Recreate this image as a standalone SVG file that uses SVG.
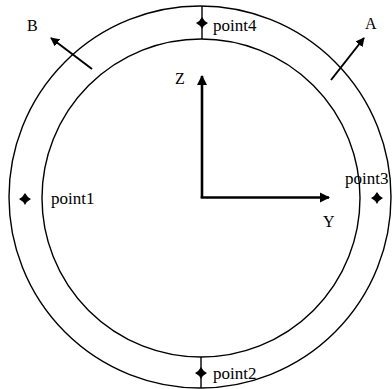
<svg xmlns="http://www.w3.org/2000/svg" width="392" height="389" viewBox="0 0 392 389">
<defs>
<style>
.ring{fill:none;stroke:#000;stroke-width:1.4}
.ax{fill:none;stroke:#000;stroke-width:2.6}
.ar{fill:none;stroke:#000;stroke-width:2}
.tk{fill:none;stroke:#000;stroke-width:1.4}
.t{font-family:"Liberation Serif","Times New Roman",serif;font-size:16px;fill:#000}
.p{font-size:17px}
</style>
<marker id="ah" viewBox="0 0 10 10" refX="9" refY="5" markerWidth="4" markerHeight="4" orient="auto" markerUnits="strokeWidth">
<path d="M0,0 L10,5 L0,10 Z" fill="#000"/>
</marker>
<marker id="ah2" viewBox="0 0 10 10" refX="9" refY="5" markerWidth="4.5" markerHeight="4.5" orient="auto" markerUnits="strokeWidth">
<path d="M0,0 L10,5 L0,10 Z" fill="#000"/>
</marker>
<path id="star" d="M0,-6 Q2,-2 6,0 Q2,2 0,6 Q-2,2 -6,0 Q-2,-2 0,-6Z" fill="#000"/>
</defs>
<g id="rings">
<circle class="ring" cx="200" cy="197" r="191"/>
<circle class="ring" cx="201" cy="198" r="159"/>
</g>
<g id="connectors">
<line class="ax" x1="202" y1="198" x2="202" y2="76" marker-end="url(#ah)"/>
<line class="ax" x1="200.7" y1="197.5" x2="329" y2="197.5" marker-end="url(#ah)"/>
<line class="ar" x1="92" y1="69" x2="51" y2="38" marker-end="url(#ah2)"/>
<line class="ar" x1="331" y1="80" x2="364" y2="38" marker-end="url(#ah2)"/>
<line class="tk" x1="202" y1="6" x2="202" y2="39"/>
<line class="tk" x1="201" y1="357" x2="201" y2="388"/>
</g>
<g id="point4"><use href="#star" x="202" y="23"/><text class="t p" x="213" y="31">point4</text></g>
<g id="point1"><use href="#star" x="25" y="199"/><text class="t p" x="51" y="204">point1</text></g>
<g id="point3"><use href="#star" x="377" y="198"/><text class="t p" x="345" y="184">point3</text></g>
<g id="point2"><use href="#star" x="201" y="373"/><text class="t p" x="213" y="379">point2</text></g>
<g id="labelZ"><text class="t" x="175" y="84">Z</text></g>
<g id="labelY"><text class="t" x="323" y="227">Y</text></g>
<g id="labelA"><text class="t" x="365" y="29">A</text></g>
<g id="labelB"><text class="t" x="27" y="31">B</text></g>
</svg>
